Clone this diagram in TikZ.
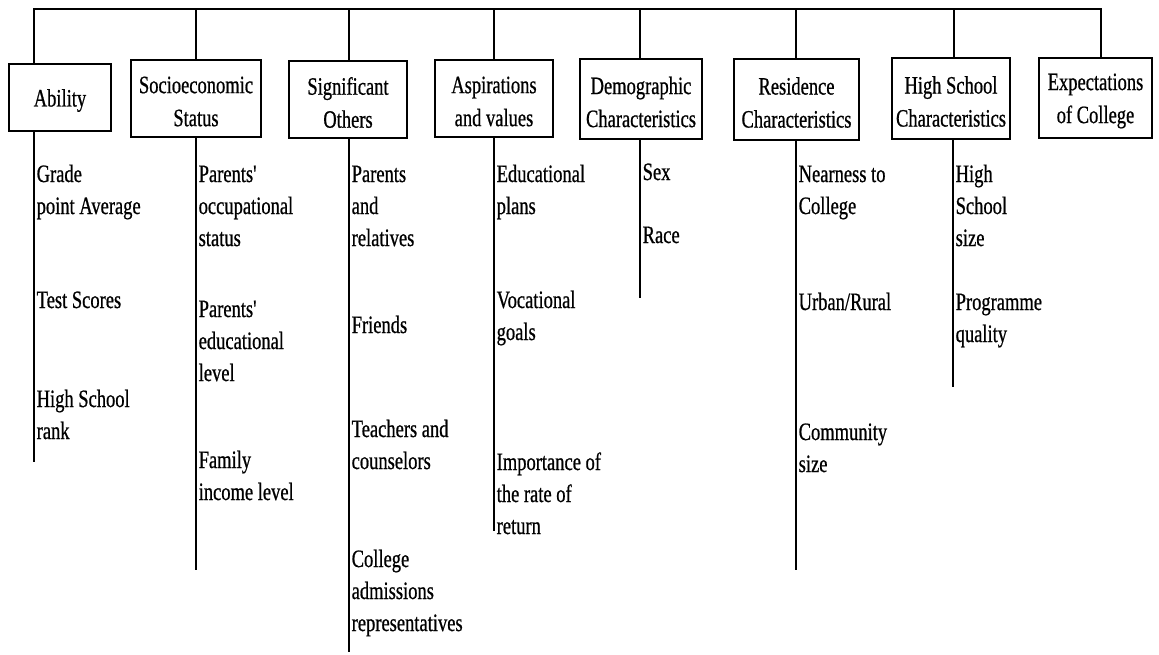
\documentclass[tikz,border=0pt]{standalone}
\usepackage{fontspec}
\setmainfont{Liberation Serif}[FakeStretch=0.74, FakeBold=0.7]
% a top-aligned column, so the node's base is the first line's baseline
\newcommand\factorlist[1]{\begin{tabular}[t]{@{}l@{}}#1\end{tabular}}
\begin{document}
\begin{tikzpicture}[x=1pt,y=-1pt,
  rule/.style={line width=2.6pt},
  catbox/.style={draw, line width=2.6pt, inner sep=0pt},
  cattext/.style={inner sep=0pt, align=center, yshift=-3pt,
    font=\fontsize{25}{33}\selectfont},
  itemtext/.style={anchor=base west, inner sep=0pt,
    font=\fontsize{25}{32}\selectfont}]
\useasboundingbox (0,0) rectangle (1159,654);

% category boxes
\node[catbox, minimum width=102pt, minimum height=67pt] (ability) at (60,97.5) {};
\node[catbox, minimum width=130pt, minimum height=77pt] (socio) at (196,98.5) {};
\node[catbox, minimum width=118pt, minimum height=77pt] (signif) at (348,99.5) {};
\node[catbox, minimum width=118pt, minimum height=77pt] (aspir) at (494,98.5) {};
\node[catbox, minimum width=122pt, minimum height=80pt] (demog) at (641,99) {};
\node[catbox, minimum width=125pt, minimum height=81pt] (resid) at (796.5,99.5) {};
\node[catbox, minimum width=118pt, minimum height=81pt] (hsch) at (951,98.5) {};
\node[catbox, minimum width=113pt, minimum height=80pt] (expect) at (1095.5,98) {};

% category titles
\node[cattext] (tability) at (ability.center) {Ability};
\node[cattext] (tsocio) at (socio.center) {Socioeconomic\\Status};
\node[cattext] (tsignif) at (signif.center) {Significant\\Others};
\node[cattext] (taspir) at (aspir.center) {Aspirations\\and values};
\node[cattext] (tdemog) at (demog.center) {Demographic\\Characteristics};
\node[cattext] (tresid) at (resid.center) {Residence\\Characteristics};
\node[cattext] (thsch) at (hsch.center) {High School\\Characteristics};
\node[cattext] (texpect) at (expect.center) {Expectations\\of College};

% junctions on the top bar
\coordinate (c1) at (34,9);
\coordinate (c2) at (196,9);
\coordinate (c3) at (349,9);
\coordinate (c4) at (494,9);
\coordinate (c5) at (640,9);
\coordinate (c6) at (796,9);
\coordinate (c7) at (954,9);
\coordinate (c8) at (1101,9);

% top bar with the drops into each box
\draw[rule] (c1 |- ability.north) -- (c1) -- (c8) -- (c8 |- expect.north);
\draw[rule] (c2) -- (c2 |- socio.north);
\draw[rule] (c3) -- (c3 |- signif.north);
\draw[rule] (c4) -- (c4 |- aspir.north);
\draw[rule] (c5) -- (c5 |- demog.north);
\draw[rule] (c6) -- (c6 |- resid.north);
\draw[rule] (c7) -- (c7 |- hsch.north);

% lower ends of the stems
\coordinate (e1) at (34,462);
\coordinate (e2) at (196,570);
\coordinate (e3) at (349,652);
\coordinate (e4) at (494,531);
\coordinate (e5) at (640,298);
\coordinate (e6) at (796,570);
\coordinate (e7) at (953,387);

\draw[rule] (e1 |- ability.south) -- (e1);
\draw[rule] (e2 |- socio.south) -- (e2);
\draw[rule] (e3 |- signif.south) -- (e3);
\draw[rule] (e4 |- aspir.south) -- (e4);
\draw[rule] (e5 |- demog.south) -- (e5);
\draw[rule] (e6 |- resid.south) -- (e6);
\draw[rule] (e7 |- hsch.south) -- (e7);

% factors listed under each category (coordinates are first baselines)
\node[itemtext] (a1) at (36.5,182) {\factorlist{Grade\\point Average}};
\node[itemtext] (a2) at (36.5,308) {\factorlist{Test Scores}};
\node[itemtext] (a3) at (36.5,407) {\factorlist{High School\\rank}};

\node[itemtext] (s1) at (198.5,182) {\factorlist{Parents\textquotesingle\\occupational\\status}};
\node[itemtext] (s2) at (198.5,317) {\factorlist{Parents\textquotesingle\\educational\\level}};
\node[itemtext] (s3) at (198.5,468) {\factorlist{Family\\income level}};

\node[itemtext] (o1) at (351.5,182) {\factorlist{Parents\\and\\relatives}};
\node[itemtext] (o2) at (351.5,333) {\factorlist{Friends}};
\node[itemtext] (o3) at (351.5,437) {\factorlist{Teachers and\\counselors}};
\node[itemtext] (o4) at (351.5,567) {\factorlist{College\\admissions\\representatives}};

\node[itemtext] (v1) at (496.5,182) {\factorlist{Educational\\plans}};
\node[itemtext] (v2) at (496.5,308) {\factorlist{Vocational\\goals}};
\node[itemtext] (v3) at (496.5,470) {\factorlist{Importance of\\the rate of\\return}};

\node[itemtext] (d1) at (642.5,180) {\factorlist{Sex}};
\node[itemtext] (d2) at (642.5,243) {\factorlist{Race}};

\node[itemtext] (r1) at (798.5,182) {\factorlist{Nearness to\\College}};
\node[itemtext] (r2) at (798.5,310) {\factorlist{Urban/Rural}};
\node[itemtext] (r3) at (798.5,440) {\factorlist{Community\\size}};

\node[itemtext] (h1) at (955.5,182) {\factorlist{High\\School\\size}};
\node[itemtext] (h2) at (955.5,310) {\factorlist{Programme\\quality}};
\end{tikzpicture}
\end{document}
